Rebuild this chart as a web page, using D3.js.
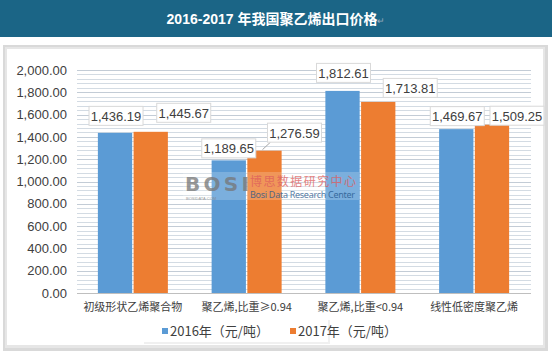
<!DOCTYPE html>
<html><head><meta charset="utf-8">
<script src="https://cdn.jsdelivr.net/npm/d3@7/dist/d3.min.js"></script>
<style>
body{margin:0;background:#fff;}
svg{display:block;font-family:"Liberation Sans",Arial,"Noto Sans CJK SC",sans-serif;}
</style></head>
<body><svg id="c" width="552" height="358"></svg>
<script>
const categories = ["初级形状乙烯聚合物", "聚乙烯,比重≥0.94", "聚乙烯,比重<0.94", "线性低密度聚乙烯"];
const seriesNames = ["2016年（元/吨）", "2017年（元/吨）"];
const values2016 = [1436.19, 1189.65, 1812.61, 1469.67];
const values2017 = [1445.67, 1276.59, 1713.81, 1509.25];
const yTicks = [0, 200, 400, 600, 800, 1000, 1200, 1400, 1600, 1800, 2000];
const colors = ["#5b9bd5", "#ed7d31"];
const title = "2016-2017 年我国聚乙烯出口价格";

const svg = d3.select("#c");
// title bar
svg.append("rect").attr("x",0).attr("y",0).attr("width",552).attr("height",37).attr("fill","#1b6586");
const tt = svg.append("text").attr("x",276).attr("y",24).attr("text-anchor","middle")
  .attr("fill","#fff").attr("font-size",14).attr("font-weight","bold");
tt.append("tspan").text(title);
tt.append("tspan").attr("fill","#9ab").attr("font-size",9).attr("font-weight","normal").text("↵");

// panel shadow + panel
svg.append("rect").attr("x",3).attr("y",45).attr("width",545).attr("height",306).attr("fill","#d9d9d9");
svg.append("rect").attr("x",5).attr("y",47).attr("width",540).attr("height",301).attr("fill","#e6e6e6");
svg.append("rect").attr("x",7).attr("y",49).attr("width",536).attr("height",296).attr("fill","#fff");

const x0 = d3.scaleBand().domain(categories).range([76, 531]);
const x1 = d3.scaleBand().domain([0,1]).range([0, 70]).paddingInner(0.04);
const y = d3.scaleLinear().domain([0, 2000]).range([293, 70]);

// dense gridlines
const grid = d3.range(0, 2001, 40);
svg.append("g").selectAll("line").data(grid).join("line")
  .attr("x1",77).attr("x2",531)
  .attr("y1",d=>Math.round(y(d))+0.5).attr("y2",d=>Math.round(y(d))+0.5)
  .attr("stroke",(d)=> d%200===0 ? "#c3ccd6" : "#d3dbe3").attr("stroke-width",1);

// y axis labels
const yAxis = d3.axisLeft(y).tickValues(yTicks).tickSize(0).tickPadding(0)
  .tickFormat(d3.format(",.2f"));
const ga = svg.append("g").attr("transform","translate(67,0)").call(yAxis);
ga.select(".domain").remove();
ga.selectAll("text").attr("fill","#404040").attr("font-size",13).attr("font-family","Liberation Sans, Arial, sans-serif");

// x axis
const xa = d3.axisBottom(x0).tickSize(0).tickPadding(8);
const gx = svg.append("g").attr("transform","translate(0,293)").call(xa);
gx.select(".domain").attr("stroke","#bfbfbf").attr("d","M77,0.5H531");
gx.selectAll("text").attr("fill","#404040").attr("font-size",11)
  .attr("font-family","Noto Sans CJK SC, sans-serif").attr("dy","0.9em");

// bars
const series = [values2016, values2017];
const barX = (i, si) => x0(categories[i]) + (x0.bandwidth()-70)/2 + x1(si);
const gb = svg.append("g");
series.forEach((vals, si) => {
  gb.selectAll(null).data(vals).join("rect")
    .attr("x",(d,i)=>barX(i,si))
    .attr("y",d=>y(d)).attr("width",x1.bandwidth()).attr("height",d=>293-y(d))
    .attr("fill",colors[si]);
});

// watermark (over bars)
const wm = svg.append("g").attr("opacity",0.8);
wm.append("rect").attr("x",183).attr("y",172).attr("width",176).attr("height",28).attr("fill","#fff").attr("opacity",0.25);
wm.append("text").attr("x",185).attr("y",191).attr("font-size",20).attr("font-weight","bold")
  .attr("fill","#7f7f7f").attr("font-family","DejaVu Sans, sans-serif").attr("textLength",64).text("BOSI");
wm.append("text").attr("x",186).attr("y",200).attr("font-size",4).attr("fill","#888").text("BOSIDATA.COM");
wm.append("text").attr("x",250).attr("y",185.5).attr("font-size",12).attr("fill","#e06666")
  .attr("font-family","Noto Sans CJK SC, sans-serif").attr("textLength",106).text("博思数据研究中心");
wm.append("text").attr("x",250).attr("y",198).attr("font-size",9).attr("fill","#2f5f92")
  .attr("font-family","Noto Sans, sans-serif").attr("textLength",105).text("Bosi Data Research Center");

// data labels: offsets of box centre from bar-top centre
const fmt = d3.format(",.2f");
const labelOffsets = [
  [[1,-17],[33,-19]],
  [[0,-12],[30,-18]],
  [[1,-18],[32,-14]],
  [[1,-13],[25,-9]]
];
const gl = svg.append("g");
series.forEach((vals, si) => {
  vals.forEach((v,i) => {
    const bx = barX(i,si) + x1.bandwidth()/2;
    const cx = bx + labelOffsets[i][si][0];
    const cy = y(v) + labelOffsets[i][si][1];
    const w = 54, h = 19;
    if (i===1 && si===1) {
      gl.append("line").attr("x1",bx-2).attr("y1",y(v)-1)
        .attr("x2",cx-w/2+3).attr("y2",cy+h/2).attr("stroke","#a6a6a6");
    }
    gl.append("rect").attr("x",cx-w/2).attr("y",cy-h/2).attr("width",w).attr("height",h)
      .attr("fill","#fff").attr("stroke","#d9d9d9");
    gl.append("text").attr("x",cx).attr("y",cy+5).attr("text-anchor","middle")
      .attr("font-size",13).attr("fill","#404040").text(fmt(v));
  });
});

// legend
const lg = svg.append("g");
lg.append("rect").attr("x",144).attr("y",320).attr("width",186).attr("height",24).attr("fill","#f0f0f0");
lg.append("rect").attr("x",143).attr("y",319).attr("width",185).attr("height",23).attr("fill","#fff");
const lx = [162, 290];
seriesNames.forEach((n,i)=>{
  lg.append("rect").attr("x",lx[i]).attr("y",328).attr("width",6).attr("height",6).attr("fill",colors[i]);
  lg.append("text").attr("x",lx[i]+8).attr("y",336).attr("font-size",13).attr("fill","#404040")
    .attr("font-family","Noto Sans CJK SC, sans-serif").text(n);
});
</script></body></html>
